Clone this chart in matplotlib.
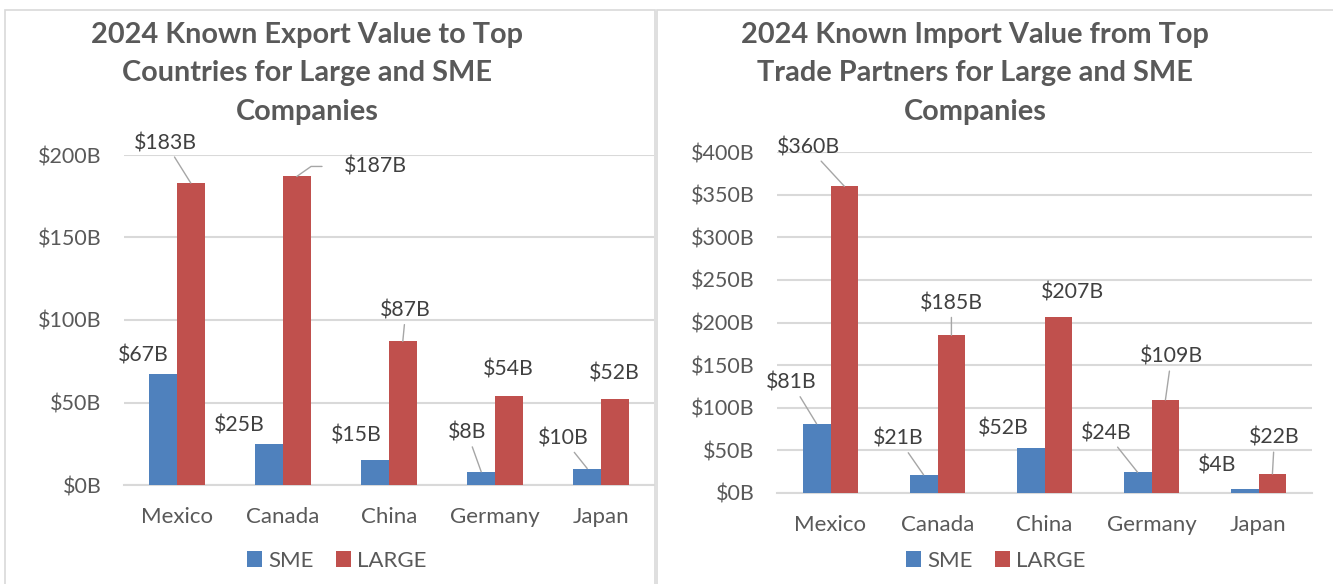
import numpy as np
import matplotlib
matplotlib.use("Agg")
import matplotlib.pyplot as plt
from matplotlib.patches import Rectangle

plt.rcParams['font.family'] = ['Lato', 'DejaVu Sans']

# data
countries = ["Mexico", "Canada", "China", "Germany", "Japan"]
export_sme = [67, 25, 15, 8, 10]
export_large = [183, 187, 87, 54, 52]
import_sme = [81, 21, 52, 24, 4]
import_large = [360, 185, 207, 109, 22]

export_title = ["2024 Known Export Value to Top", "Countries for Large and SME", "Companies"]
import_title = ["2024 Known Import Value from Top", "Trade Partners for Large and SME", "Companies"]

# label offsets in pixels from bar top (dx, dy, leader)
exp_sme_off = [(-20, 19, False), (-30, 18, False), (-19, 25, False), (-14, 39, True), (-24, 30, True)]
exp_large_off = [(-25, 40, True), (79, 10, 'elbow'), (3, 31, True), (0, 26, False), (0, 26, False)]
imp_sme_off = [(-25, 41, True), (-25, 36, True), (-27, 20, False), (-31, 39, True), (-27, 24, False)]
imp_large_off = [(-36, 39, True), (0, 32, True), (14, 24, False), (6, 43, True), (2, 36, True)]

BLUE = "#4F81BD"
RED = "#C0504D"
TXT = "#595959"
LBL = "#404040"
GRID = "#D9D9D9"

W, H = 1333, 584
fig = plt.figure(figsize=(W / 100, H / 100), dpi=100)

# panel borders
fig.patches.append(Rectangle((5 / W, -0.1), 650 / W, 1.1 - 10 / H, transform=fig.transFigure,
                             fill=False, ec=GRID, lw=1.2))
fig.patches.append(Rectangle((657 / W, -0.1), 0.6, 1.1 - 10 / H, transform=fig.transFigure,
                             fill=False, ec=GRID, lw=1.2))


def label_bars(ax, xs, vals, offs):
    for x, v, (dx, dy, lead) in zip(xs, vals, offs):
        kw = {}
        if lead == 'elbow':
            kw['arrowprops'] = dict(arrowstyle='-', color='#A6A6A6', lw=1, shrinkA=14, shrinkB=0,
                                    relpos=(0, 0.5), connectionstyle="angle,angleA=180,angleB=35,rad=0")
        elif lead:
            kw['arrowprops'] = dict(arrowstyle='-', color='#A6A6A6', lw=1, shrinkA=1, shrinkB=0)
        ax.annotate(f"${v}B", xy=(x, v), xytext=(dx, dy), textcoords='offset pixels',
                    ha='center', va='center', fontsize=15.3, color=LBL, **kw)


def draw(rect, sme, large, ymax, sme_off, large_off, title, title_x, legend_x):
    ax = fig.add_axes(rect)
    x = np.arange(len(countries))
    w = 0.26
    ax.bar(x - w / 2, sme, w, color=BLUE, label="SME", zorder=3)
    ax.bar(x + w / 2, large, w, color=RED, label="LARGE", zorder=3)
    ax.set_xlim(-0.5, len(countries) - 0.5)
    ax.set_ylim(0, ymax)
    ax.set_yticks(np.arange(0, ymax + 1, 50))
    ax.set_yticklabels([f"${t}B" for t in range(0, ymax + 1, 50)])
    ax.set_xticks(x)
    ax.set_xticklabels(countries)
    ax.grid(axis='y', color=GRID, lw=1.5, zorder=0)
    for s in ['top', 'right', 'left']:
        ax.spines[s].set_visible(False)
    ax.spines['bottom'].set_color(GRID)
    ax.spines['bottom'].set_linewidth(1.5)
    ax.tick_params(axis='y', length=0, pad=16, labelsize=15.5, labelcolor=TXT)
    ax.tick_params(axis='x', length=0, pad=16, labelsize=16, labelcolor=TXT)
    label_bars(ax, x - w / 2, sme, sme_off)
    label_bars(ax, x + w / 2, large, large_off)
    for line, yp in zip(title, [35, 73, 112]):
        fig.text(title_x / W, 1 - yp / H, line, ha='center', va='center', fontsize=20.8,
                 fontweight='bold', color=TXT)
    ax.legend(loc='center', bbox_to_anchor=(legend_x / W, 1 - 561 / H), bbox_transform=fig.transFigure,
              ncol=2, frameon=False, fontsize=16, labelcolor=TXT, handlelength=0.65, handleheight=0.7,
              handletextpad=0.3, columnspacing=1.0)
    return ax


draw([124 / W, 1 - 485 / H, 530 / W, 330 / H], export_sme, export_large, 200,
     exp_sme_off, exp_large_off, export_title, 307, 337)
draw([777 / W, 1 - 492.7 / H, 535 / W, 340.4 / H], import_sme, import_large, 400,
     imp_sme_off, imp_large_off, import_title, 975, 996)

fig.savefig("out.png", dpi=100)
